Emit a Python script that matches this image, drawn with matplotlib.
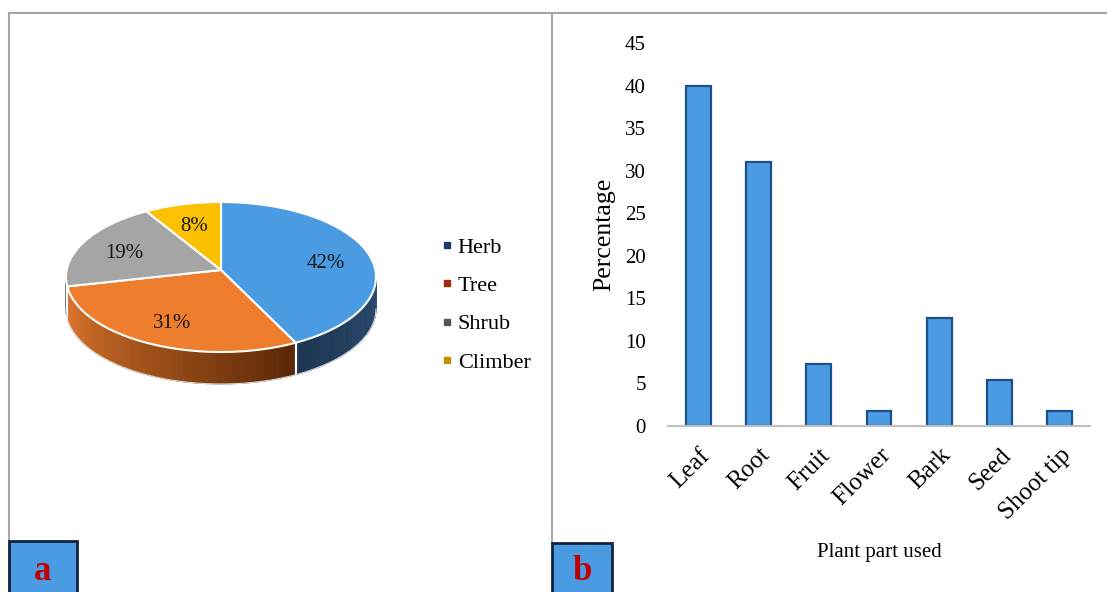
import matplotlib.pyplot as plt
import numpy as np
from matplotlib.lines import Line2D
from matplotlib.patches import Rectangle
from matplotlib.colors import to_rgb

plt.rcParams['font.family'] = ['Liberation Serif', 'DejaVu Serif']

# panel a: growth habit
habit = ['Herb', 'Tree', 'Shrub', 'Climber']
habit_pct = [42, 31, 19, 8]
top_colors = ['#4a9be2', '#ef7d2e', '#a5a5a5', '#fbc000']
side_colors = [('#1c3552', '#2b4b6e'), ('#e2772c', '#5a2806'),
               ('#8a8a8a', '#6a6a6a'), ('#c79a00', '#a07800')]
legend_colors = ['#1f3c72', '#9b2c0c', '#555555', '#c58f00']

# panel b: plant part used
parts = ['Leaf', 'Root', 'Fruit', 'Flower', 'Bark', 'Seed', 'Shoot tip']
parts_pct = [40, 31, 7.3, 1.8, 12.7, 5.4, 1.8]

fig = plt.figure(figsize=(11.07, 5.92), dpi=100)
bg = fig.add_axes([0, 0, 1, 1])
bg.set_xlim(0, 1107)
bg.set_ylim(592, 0)
bg.axis('off')

# panel frames
lc = '#a6a6a6'
bg.plot([9, 1107], [13, 13], color=lc, lw=1.5)
bg.plot([9, 9], [13, 541], color=lc, lw=1.5)
bg.plot([552, 552], [13, 543], color=lc, lw=1.5)

# ---- 3d-ish pie ----
cx, cy, rx, ry, depth = 221, 277, 155, 75, 32
apex = (221, 270)   # perspective: the centre sits a little above the ellipse centre


def ex(t):
    return cx + rx * np.cos(np.radians(t))


def ey(t):
    return cy - ry * np.sin(np.radians(t))


fracs = np.array(habit_pct) / sum(habit_pct)
bounds = 90 - 360 * np.concatenate([[0], np.cumsum(fracs)])

# visible side walls
for i in range(len(habit)):
    lo, hi = max(bounds[i + 1], -180), min(bounds[i], 0)
    if hi <= lo:
        continue
    c0, c1 = np.array(to_rgb(side_colors[i][0])), np.array(to_rgb(side_colors[i][1]))
    ts = np.linspace(lo, hi, 60)
    for k in range(len(ts) - 1):
        s = k / (len(ts) - 2)
        col = c0 * (1 - s) + c1 * s
        tt = np.linspace(ts[k], ts[k + 1], 3)
        xs = np.concatenate([ex(tt), ex(tt[::-1])])
        ys = np.concatenate([ey(tt), ey(tt[::-1]) + depth])
        bg.fill(xs, ys, color=col, lw=0.6, ec=col)
    for b in (lo, hi):
        if b in bounds and -180 < b < 0:
            bg.plot([ex(b), ex(b)], [ey(b), ey(b) + depth], color='white', lw=1.5)
tt = np.linspace(-180, 0, 200)
bg.plot(ex(tt), ey(tt) + depth, color='#d9d9d9', lw=0.8)

# top faces
for i in range(len(habit)):
    tt = np.linspace(bounds[i], bounds[i + 1], 100)
    xs = np.concatenate([[apex[0]], ex(tt)])
    ys = np.concatenate([[apex[1]], ey(tt)])
    bg.fill(xs, ys, color=top_colors[i], ec='white', lw=1.5)
    mid = (bounds[i] + bounds[i + 1]) / 2
    lx = cx + 0.7 * rx * np.cos(np.radians(mid))
    ly = cy - 0.7 * ry * np.sin(np.radians(mid))
    bg.text(lx, ly, f'{habit_pct[i]}%', ha='center', va='center', fontsize=15, color='#1a1a1a')

handles = [Line2D([], [], marker='s', ls='none', ms=4.5, color=c) for c in legend_colors]
bg.legend(handles, habit, loc='center left', bbox_to_anchor=(441, 305),
          bbox_transform=bg.transData, frameon=False, fontsize=16,
          handlelength=0.55, handletextpad=0.2, labelspacing=0.8,
          borderpad=0, borderaxespad=0)

# panel letters
for x0, x1, y0, letter in [(9, 77, 541, 'a'), (552, 612, 543, 'b')]:
    bg.add_patch(Rectangle((x0, y0), x1 - x0, 592 - y0 + 5, fc='#4a9be2', ec='#10243f', lw=2, zorder=5))
    bg.text((x0 + x1) / 2, 572, letter, ha='center', va='center', fontsize=25,
            fontweight='bold', color='#c00000', zorder=6)

# ---- bar chart ----
ax = fig.add_axes([668 / 1107, 1 - 426 / 592, 422 / 1107, 383 / 592])
ax.set_facecolor('none')
x = np.arange(len(parts))
ax.bar(x, parts_pct, width=0.41, color='#4a9be2', edgecolor='#1d4f8c', lw=1.6)
ax.set_xlim(-0.5, len(parts) - 0.5)
ax.set_ylim(0, 45)
ax.set_yticks(range(0, 46, 5))
for s in ('top', 'right', 'left'):
    ax.spines[s].set_visible(False)
ax.spines['bottom'].set_color('#bfbfbf')
ax.spines['bottom'].set_linewidth(1.5)
ax.tick_params(axis='y', length=0, pad=16, labelsize=15)
ax.tick_params(axis='x', length=0, pad=13, labelsize=18)
ax.set_xticks(x, parts, rotation=45, ha='right', rotation_mode='anchor')
ax.set_ylabel('Percentage', fontsize=18.5)
ax.yaxis.set_label_coords(-0.125, 0.5)
ax.set_xlabel('Plant part used', fontsize=15)
ax.xaxis.set_label_coords(0.5, -0.305)

fig.savefig('out.png', dpi=100)
